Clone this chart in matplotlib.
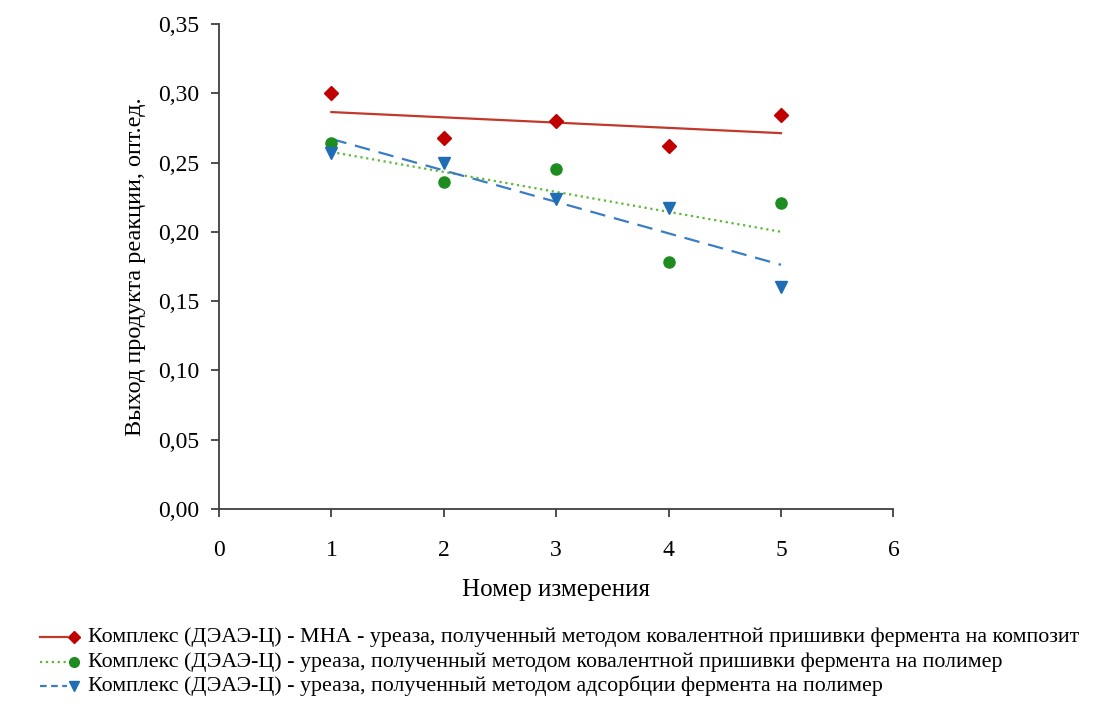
import numpy as np
import matplotlib.pyplot as plt
from matplotlib.lines import Line2D
from matplotlib.ticker import FuncFormatter

plt.rcParams['font.family'] = ['Liberation Serif', 'DejaVu Serif']

# Номер измерения
nomer = np.array([1, 2, 3, 4, 5])

# Выход продукта реакции, опт.ед.
mna_kovalent = np.array([0.300, 0.268, 0.280, 0.262, 0.284])
polimer_kovalent = np.array([0.264, 0.236, 0.245, 0.178, 0.221])
polimer_adsorb = np.array([0.257, 0.250, 0.224, 0.217, 0.160])

nazvaniya = [
    'Комплекс (ДЭАЭ-Ц) - МНА - уреаза, полученный методом ковалентной пришивки фермента на композит',
    'Комплекс (ДЭАЭ-Ц) - уреаза, полученный методом ковалентной пришивки фермента на полимер',
    'Комплекс (ДЭАЭ-Ц) - уреаза, полученный методом адсорбции фермента на полимер',
]

# стиль: цвет точек, цвет линии тренда, маркер, размер, тип линии, тип линии в легенде
stili = [
    ('#C00000', '#C0392B', 'D', 7, '-', '-'),
    ('#1E8C1E', '#5DB83A', 'o', 8, ':', ':'),
    ('#1F6DB5', '#3A7DC4', 'v', 8, (0, (7, 4)), (0, (3, 2))),
]
serii = [mna_kovalent, polimer_kovalent, polimer_adsorb]

fig = plt.figure(figsize=(11.02, 7.04), dpi=100)
ax = fig.add_axes([0.1987, 0.277, 0.612, 0.689])

for y, (c_pt, c_ln, mk, ms, ls, _) in zip(serii, stili):
    # линейный тренд
    k, b = np.polyfit(nomer, y, 1)
    ax.plot(nomer, k * nomer + b, color=c_ln, linestyle=ls, linewidth=1.6, zorder=2)
    ax.plot(nomer, y, linestyle='none', marker=mk, markersize=ms,
            color=c_pt, markeredgecolor=c_pt, zorder=3)

ax.set_xlim(0, 6)
ax.set_ylim(0, 0.35)
ax.set_xticks(range(0, 7))
ax.set_yticks(np.arange(0, 0.351, 0.05))
ax.yaxis.set_major_formatter(FuncFormatter(lambda v, p: f'{v:.2f}'.replace('.', ',')))
ax.spines['top'].set_visible(False)
ax.spines['right'].set_visible(False)
for s in ('left', 'bottom'):
    ax.spines[s].set_color('#404040')
    ax.spines[s].set_linewidth(1.3)
ax.tick_params(direction='out', length=6, width=1.3, color='#404040',
               labelsize=17, pad=8)
ax.tick_params(axis='x', pad=16)
ax.set_xlabel('Номер измерения', fontsize=18, labelpad=13)
ax.set_ylabel('Выход продукта реакции, опт.ед.', fontsize=17.5, labelpad=9)

# легенда внизу: линия, маркер справа, подпись
y_leg = [1 - 637 / 704, 1 - 662 / 704, 1 - 686 / 704]
for yl, nazv, (c_pt, c_ln, mk, ms, _, ls_leg) in zip(y_leg, nazvaniya, stili):
    fig.add_artist(Line2D([40 / 1102, 67 / 1102], [yl, yl], color=c_ln,
                          linestyle=ls_leg, linewidth=1.6,
                          transform=fig.transFigure))
    fig.add_artist(Line2D([74 / 1102], [yl], marker=mk, markersize=ms - 1,
                          color=c_pt, linestyle='none', transform=fig.transFigure))
    fig.text(88 / 1102, yl, nazv, fontsize=15.8, va='center', ha='left')

fig.savefig('out.png', dpi=100)
